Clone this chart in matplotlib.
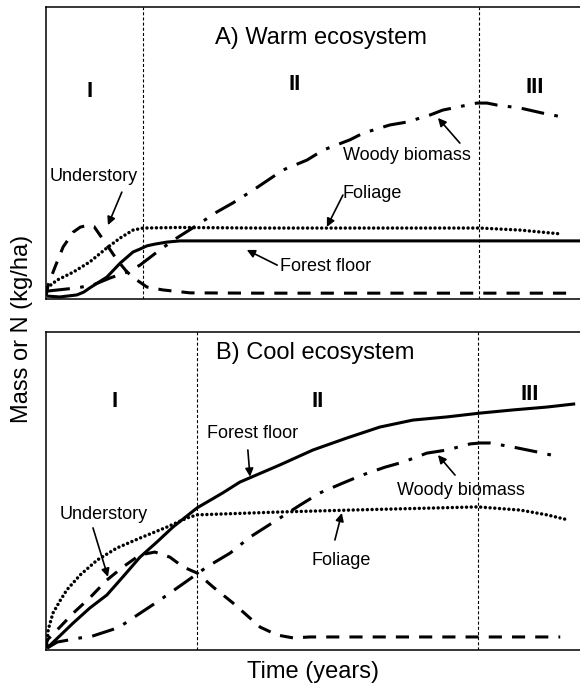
import matplotlib
matplotlib.use("Agg")
import matplotlib.pyplot as plt

plt.rcParams["font.family"] = ["Liberation Sans", "DejaVu Sans"]

# time axis 0-100 (relative), mass axis 0-100 (relative)
# ---- A) warm ecosystem ----
understory_a_t = [0.0, 0.4, 1.7, 3.2, 5.1, 6.4, 7.9, 9.0, 10.1, 11.4, 13.3, 15.2, 17.0, 18.9, 21.9, 27.0, 40, 60, 80, 97.8]
understory_a_v = [1.0, 4.8, 11.0, 17.8, 22.9, 24.6, 25.3, 24.8, 21.9, 18.5, 13.4, 9.2, 6.5, 4.1, 3.1, 2.1, 2.0, 2.0, 2.0, 2.0]

foliage_a_t = [0.2, 2.1, 5.1, 8.2, 11.4, 13.9, 16.3, 18.2, 25.0, 40, 60, 81.3, 88.8, 96.3]
foliage_a_v = [3.8, 6.5, 9.2, 12.7, 17.5, 20.9, 23.6, 24.3, 24.5, 24.3, 24.3, 24.3, 23.6, 22.3]

forest_a_t = [0.2, 2.6, 5.8, 7.1, 8.2, 11.4, 13.9, 16.3, 17.6, 18.9, 20.4, 22.7, 25.1, 40, 100]
forest_a_v = [1.0, 0.7, 1.4, 2.4, 3.8, 7.5, 12.3, 16.1, 17.1, 18.2, 18.8, 19.5, 19.9, 19.9, 19.9]

woody_a_t = [0.2, 5.8, 8.8, 12.0, 15.2, 17.6, 21.3, 24.5, 28.3, 32.0, 35.0, 38.8, 44.4, 48.9,
             51.9, 56.9, 59.4, 64.4, 67.6, 71.9, 74.3, 80.7, 82.6, 84.5, 88.8, 92.9, 96.8]
woody_a_v = [2.7, 3.8, 4.8, 7.2, 9.2, 11.6, 16.8, 20.9, 25.3, 29.8, 32.9, 37.3, 44.2, 47.6,
             51.0, 54.5, 56.8, 59.6, 60.6, 63.0, 64.7, 67.1, 67.1, 66.4, 65.4, 63.7, 62.3]

stages_a = [18.2, 81.1]

# ---- B) cool ecosystem ----
understory_b_t = [0.0, 0.2, 2.6, 5.1, 8.2, 11.4, 14.4, 17.6, 20.4, 23.2, 25.7, 28.3, 31.3, 35.0,
                  40.1, 43.3, 46.3, 49.4, 70, 96.3]
understory_b_v = [0.6, 3.1, 7.2, 11.6, 16.4, 22.0, 26.1, 29.9, 30.8, 29.2, 26.1, 24.2, 19.8, 14.8,
                  7.2, 4.7, 3.8, 4.1, 4.1, 4.1]

foliage_b_t = [0.2, 0.4, 1.3, 2.6, 3.9, 6.4, 9.6, 13.3, 17.6, 22.7, 26.4, 28.3, 43.8, 56.9,
               80.9, 88.8, 93.8, 97.8]
foliage_b_v = [1.6, 6.3, 11.6, 15.4, 18.9, 23.6, 28.3, 32.1, 35.2, 38.7, 41.5, 42.5, 43.4, 44.0,
               45.0, 44.0, 42.5, 40.9]

forest_b_t = [0.2, 5.1, 8.2, 11.4, 14.4, 17.6, 20.8, 23.8, 28.3, 33.1, 36.3, 43.8, 50.0, 56.4,
              62.5, 68.7, 75.1, 81.3, 87.5, 93.8, 99.1]
forest_b_v = [0.6, 8.5, 13.2, 17.3, 23.0, 29.2, 34.0, 38.7, 44.7, 49.4, 52.8, 58.2, 62.9, 66.7,
              70.1, 72.3, 73.3, 74.5, 75.5, 76.4, 77.4]

woody_b_t = [0.2, 2.1, 6.4, 8.2, 13.3, 15.2, 16.3, 20.8, 23.2, 27.5, 30.1, 34.5, 38.2, 43.8,
             47.6, 51.3, 55.6, 59.2, 63.5, 66.9, 71.3, 75.1, 79.4, 81.3, 83.1, 87.5, 91.9, 96.3]
woody_b_v = [0.6, 2.5, 3.8, 4.1, 6.9, 8.8, 10.1, 15.1, 17.9, 23.0, 26.1, 30.5, 35.5, 41.5,
             45.6, 49.4, 52.5, 55.0, 57.5, 59.1, 61.9, 62.9, 64.8, 65.1, 65.1, 63.8, 62.3, 60.7]

stages_b = [28.3, 80.9]

LW = 2.2
styles = {
    "understory": dict(lw=LW, dashes=(4.3, 3.3)),
    "foliage": dict(lw=2.5, dashes=(0.01, 1.35), dash_capstyle="round"),
    "forest": dict(lw=LW, solid_capstyle="butt", solid_joinstyle="round"),
    "woody": dict(lw=LW, dashes=(7.5, 3.4, 1.2, 3.4)),
}


def draw_panel(ax, series, stages, title, title_pos, numerals, labels):
    for key, t, v in series:
        ax.plot(t, v, color="black", **styles[key])
    for s in stages:
        ax.axvline(s, color="black", lw=0.8, dashes=(2.75, 1.9))
    ax.set_xlim(0, 100)
    ax.set_ylim(0, 100)
    ax.set_xticks([])
    ax.set_yticks([])
    ax.spines["right"].set_visible(False)
    for sp in ("left", "top", "bottom"):
        ax.spines[sp].set_linewidth(1.1)
    ax.text(title_pos[0], title_pos[1], title, ha="center", va="center", fontsize=17)
    for txt, (x, y) in numerals:
        ax.text(x, y, txt, ha="center", va="center", fontsize=16, fontweight="bold")
    for txt, xy_text, tail, head in labels:
        ax.text(xy_text[0], xy_text[1], txt, ha="left", va="center", fontsize=13)
        ax.annotate("", xy=head, xytext=tail,
                    arrowprops=dict(arrowstyle="-|>", color="black", lw=1.2,
                                    mutation_scale=12, shrinkA=0, shrinkB=0))


fig = plt.figure(figsize=(5.8, 6.88), dpi=100)
left = 46 / 580
ax_a = fig.add_axes([left, 1 - 299 / 688, 1 - left, 292 / 688])
ax_b = fig.add_axes([left, 1 - 650 / 688, 1 - left, 318 / 688])

draw_panel(
    ax_a,
    [("understory", understory_a_t, understory_a_v),
     ("foliage", foliage_a_t, foliage_a_v),
     ("forest", forest_a_t, forest_a_v),
     ("woody", woody_a_t, woody_a_v)],
    stages_a, "A) Warm ecosystem", (51.5, 89.4),
    [("I", (8.2, 70.9)), ("II", (46.6, 73.3)), ("III", (91.6, 72.6))],
    [("Understory", (0.6, 41.8), (14.2, 36.6), (11.6, 25.3)),
     ("Foliage", (55.6, 36.3), (55.6, 35.6), (52.6, 24.7)),
     ("Woody biomass", (55.6, 49.3), (77.5, 53.4), (73.4, 62.0)),
     ("Forest floor", (43.8, 11.0), (43.3, 11.6), (37.6, 16.8))],
)

draw_panel(
    ax_b,
    [("understory", understory_b_t, understory_b_v),
     ("foliage", foliage_b_t, foliage_b_v),
     ("forest", forest_b_t, forest_b_v),
     ("woody", woody_b_t, woody_b_v)],
    stages_b, "B) Cool ecosystem", (50.4, 93.4),
    [("I", (12.9, 78.0)), ("II", (50.9, 78.0)), ("III", (90.6, 80.2))],
    [("Understory", (2.6, 42.5), (8.8, 38.4), (11.6, 23.0)),
     ("Forest floor", (30.1, 68.2), (37.8, 62.9), (38.2, 54.5)),
     ("Woody biomass", (65.7, 50.3), (76.6, 55.0), (73.4, 61.3)),
     ("Foliage", (49.8, 28.3), (54.1, 34.6), (55.4, 43.1))],
)

fig.text(22 / 580, 1 - 329 / 688, "Mass or N (kg/ha)", rotation=90,
         ha="center", va="center", fontsize=17)
fig.text(313 / 580, 1 - 672 / 688, "Time (years)", ha="center", va="center", fontsize=17)

fig.savefig("out.png", dpi=100)
plt.close(fig)
